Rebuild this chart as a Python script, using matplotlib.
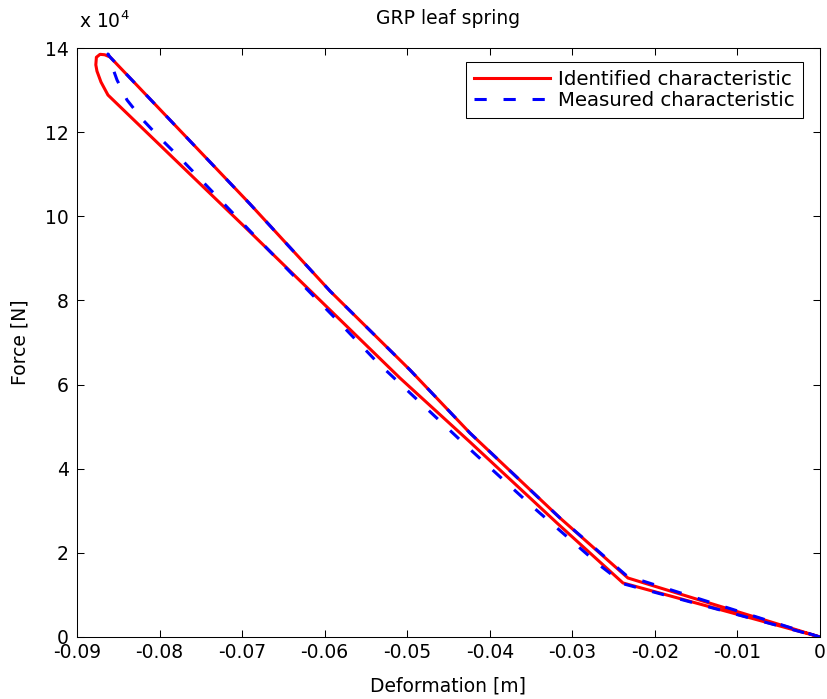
import matplotlib
matplotlib.use('Agg')
import matplotlib.pyplot as plt

# Kennlinie der GFK-Blattfeder (Kraft in 1e4 N)
ident_deform = [0.0, -0.02326, -0.03149, -0.04240, -0.04966, -0.05935, -0.06904,
                -0.08600, -0.08665, -0.08721, -0.08765, -0.08772, -0.08758,
                -0.08709, -0.08625, -0.06904, -0.05935, -0.05088, -0.04240,
                -0.03186, -0.02386, 0.0]
ident_force = [0.0, 1.402, 2.829, 4.849, 6.347, 8.224, 10.292,
               13.787, 13.84, 13.85, 13.78, 13.60, 13.45,
               13.19, 12.883, 9.627, 7.773, 6.156, 4.635,
               2.710, 1.284, 0.0]

meas_deform = [0.0, -0.02338, -0.03149, -0.04240, -0.04966, -0.05935, -0.06904,
               -0.08600, -0.08625, -0.08576, -0.08515, -0.08394, -0.08201,
               -0.07995, -0.07752, -0.06904, -0.05875, -0.05366, -0.04203,
               -0.03477, -0.02665, -0.02374, 0.0]
meas_force = [0.0, 1.45, 2.829, 4.849, 6.347, 8.224, 10.292,
              13.787, 13.858, 13.573, 13.240, 12.764, 12.289,
              11.861, 11.386, 9.651, 7.583, 6.537, 4.397,
              3.090, 1.70, 1.260, 0.0]

x_ticks = [-0.09, -0.08, -0.07, -0.06, -0.05, -0.04, -0.03, -0.02, -0.01, 0]
x_ticklabels = ['-0.09', '-0.08', '-0.07', '-0.06', '-0.05', '-0.04',
                '-0.03', '-0.02', '-0.01', '0']
y_ticks = [0, 2, 4, 6, 8, 10, 12, 14]

plt.rcParams['font.family'] = ['DejaVu Sans']
plt.rcParams['axes.unicode_minus'] = False
plt.rcParams['mathtext.default'] = 'regular'

fs = 13.5

fig = plt.figure(figsize=(8.27, 6.99), dpi=100)
ax = fig.add_axes([0.0931, 0.0887, 0.8984, 0.8426])

ax.plot(ident_deform, ident_force, color='red', lw=2.2,
        label='Identified characteristic')
ax.plot(meas_deform, meas_force, color='blue', lw=2.2,
        linestyle=(0, (4, 5.5)), label='Measured characteristic')

ax.set_xlim(-0.09, 0)
ax.set_ylim(0, 14)
ax.set_xticks(x_ticks)
ax.set_xticklabels(x_ticklabels)
ax.set_yticks(y_ticks)
ax.tick_params(direction='in', length=5, width=0.75, top=True, right=True,
               labelsize=fs)
ax.tick_params(axis='x', pad=4)
ax.tick_params(axis='y', pad=6)
for sp in ax.spines.values():
    sp.set_linewidth(0.75)

ax.set_title('GRP leaf spring', fontsize=fs, pad=17)
ax.set_xlabel('Deformation [m]', fontsize=fs, labelpad=11)
ax.set_ylabel('Force [N]', fontsize=fs, labelpad=11)
ax.text(0.003, 1.028, 'x 10$^4$', transform=ax.transAxes, fontsize=fs,
        ha='left', va='bottom')

leg = ax.legend(loc='upper right', bbox_to_anchor=(0.977, 0.976),
                fontsize=14.2, handlelength=3.9, fancybox=False,
                edgecolor='black', framealpha=1, borderpad=0.4,
                labelspacing=0.08, handletextpad=0.4, borderaxespad=0)
leg.get_frame().set_linewidth(0.75)

fig.savefig('out.png', dpi=100)
